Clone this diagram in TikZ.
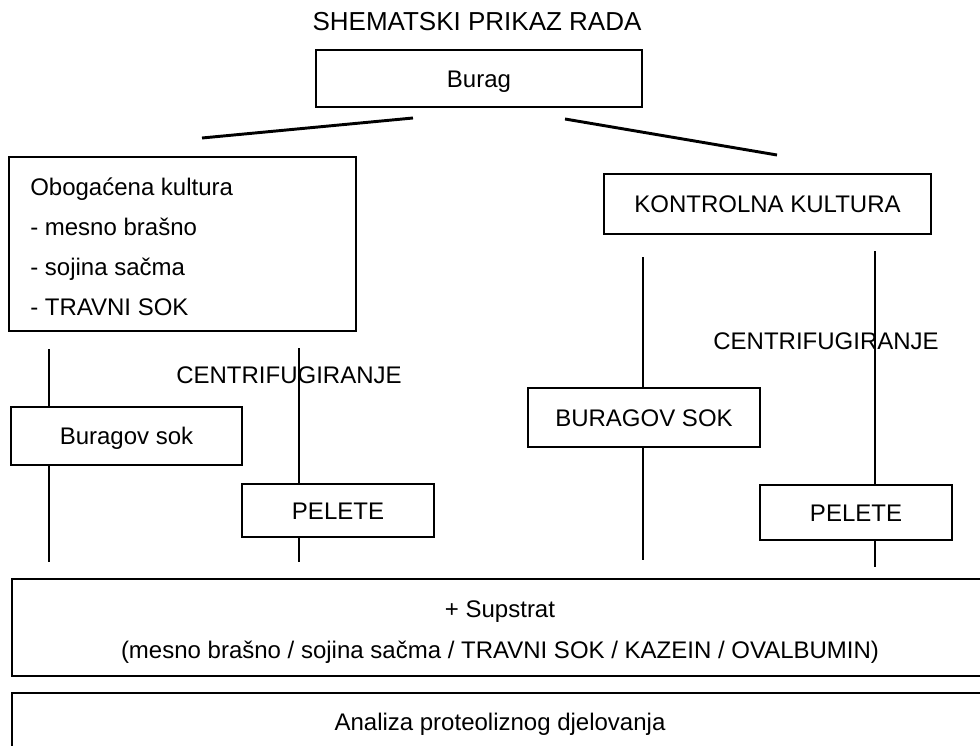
\documentclass[tikz,border=0pt]{standalone}
\usepackage{fontspec}
\setmainfont{Liberation Sans}
\begin{document}
\begin{tikzpicture}[x=0.75pt,y=-0.75pt,
  box/.style={draw, line width=1.5pt, inner sep=0pt, font=\fontsize{18}{22}\selectfont,
    text height=12.9pt, text depth=0pt},
  frame/.style={draw, line width=1.5pt, inner sep=0pt},
  txt/.style={inner sep=0pt, font=\fontsize{18}{30}\selectfont},
  conn/.style={line width=1.5pt},
  diag/.style={line width=2.2pt},
  lbl/.style={inner sep=0pt, font=\fontsize{18}{22}\selectfont, text height=12.9pt, text depth=0pt}]
\useasboundingbox (0,0) rectangle (980,745);
% title
\node[lbl, font=\fontsize{19.5}{22}\selectfont, text height=14pt] (title) at (477,21) {SHEMATSKI PRIKAZ RADA};
% boxes
\node[box, minimum width=244.5pt, minimum height=42.75pt] (burag) at (479,78.5) {Burag};
\node[frame, minimum width=260.25pt, minimum height=130.5pt] (obog) at (182.5,244) {};
\node[txt, align=left, anchor=west] (obogT) at (30,246.5)
  {Obogaćena kultura\\- mesno brašno\\- sojina sačma\\- TRAVNI SOK};
\node[box, minimum width=245.25pt, minimum height=44.25pt] (kontr) at (767.5,204) {KONTROLNA KULTURA};
\node[box, minimum width=173.25pt, minimum height=43.5pt] (sokL) at (126.5,436) {Buragov sok};
\node[box, minimum width=144pt, minimum height=39.75pt] (peleL) at (338,510.5) {PELETE};
\node[box, minimum width=174pt, minimum height=44.25pt] (sokR) at (644,417.5) {BURAGOV SOK};
\node[box, minimum width=144pt, minimum height=41.25pt] (peleR) at (856,512.5) {PELETE};
\node[frame, minimum width=732pt, minimum height=72.75pt] (supst) at (500,627.5) {};
\node[txt, font=\fontsize{18}{30.75}\selectfont, align=center] (supstT) at (500,632)
  {+ Supstrat\\(mesno brašno / sojina sačma / TRAVNI SOK / KAZEIN / OVALBUMIN)};
\node[box, minimum width=732pt, minimum height=43.5pt] (anal) at (500,722) {Analiza proteoliznog djelovanja};
% labels
\node[lbl] (cenL) at (289,375) {CENTRIFUGIRANJE};
\node[lbl] (cenR) at (826,341) {CENTRIFUGIRANJE};
% diagonal connectors
\coordinate (dLa) at (413,118);
\coordinate (dLb) at (202,138);
\coordinate (dRa) at (565,119);
\coordinate (dRb) at (777,155);
\draw[diag] (dLa) -- (dLb);
\draw[diag] (dRa) -- (dRb);
% vertical connectors
\coordinate (v1t) at (49,349);
\coordinate (v1b) at (49,562);
\coordinate (v2t) at (299,348);
\coordinate (v2b) at (299,562);
\coordinate (v3t) at (643,257);
\coordinate (v3b) at (643,560);
\coordinate (v4t) at (875,251);
\coordinate (v4b) at (875,567);
\draw[conn] (v1t) -- (sokL.north -| v1t);
\draw[conn] (sokL.south -| v1b) -- (v1b);
\draw[conn] (v2t) -- (peleL.north -| v2t);
\draw[conn] (peleL.south -| v2b) -- (v2b);
\draw[conn] (v3t) -- (sokR.north -| v3t);
\draw[conn] (sokR.south -| v3b) -- (v3b);
\draw[conn] (v4t) -- (peleR.north -| v4t);
\draw[conn] (peleR.south -| v4b) -- (v4b);
\end{tikzpicture}
\end{document}
